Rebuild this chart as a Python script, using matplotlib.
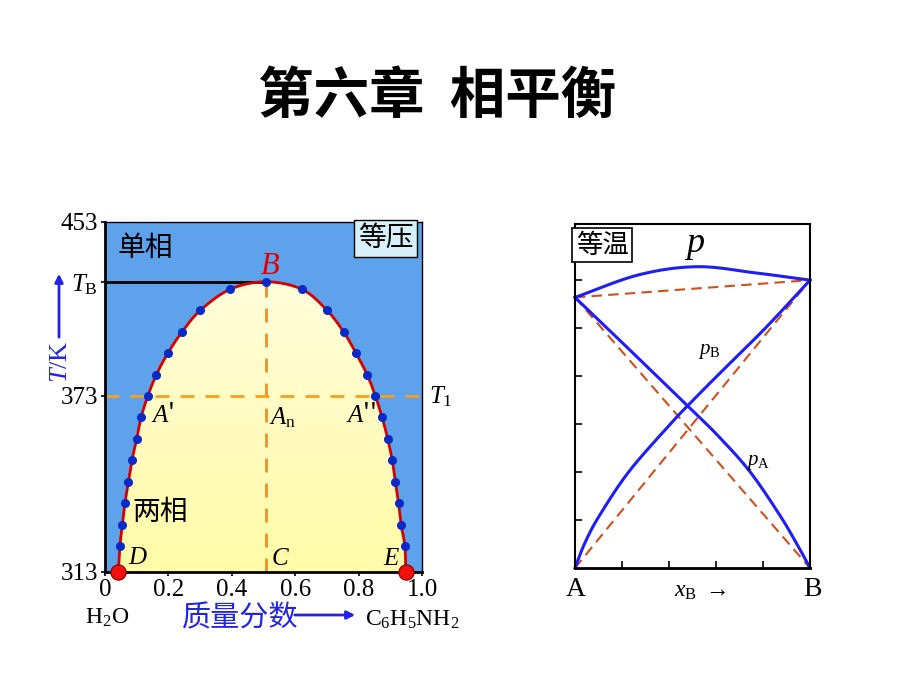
import numpy as np
import matplotlib
matplotlib.use("Agg")
import matplotlib.pyplot as plt
from matplotlib.colors import LinearSegmentedColormap
from matplotlib.patches import FancyArrowPatch

plt.rcParams['font.family'] = ['Noto Sans CJK SC', 'DejaVu Sans']
plt.rcParams['mathtext.fontset'] = 'custom'
plt.rcParams['mathtext.rm'] = 'Liberation Serif'
plt.rcParams['mathtext.it'] = 'Liberation Serif:italic'

# ----- Left: aniline / water binodal (schematic T axis) -----
binodal_x = [0.042, 0.047, 0.055, 0.063, 0.074, 0.085, 0.100, 0.114, 0.135, 0.162,
             0.198, 0.243, 0.301, 0.395, 0.507, 0.621, 0.700, 0.753, 0.792, 0.827,
             0.853, 0.874, 0.892, 0.906, 0.916, 0.926, 0.934, 0.946, 0.949]
binodal_T = [313, 323.5, 331.9, 340.6, 349.1, 357.7, 366.2, 374.9, 383.4, 391.9,
             400.5, 409.0, 417.7, 426.1, 429.1, 426.1, 417.7, 409.0, 400.5, 391.9,
             383.4, 374.9, 366.2, 357.7, 349.1, 340.6, 331.9, 323.5, 313]
T_ticks = [313, 383.4, 429.1, 453]
T_labels = ['313', '373', r'$T_\mathrm{B}$', '453']
w_ticks = [0, 0.2, 0.4, 0.6, 0.8, 1.0]
w_labels = ['0', '0.2', '0.4', '0.6', '0.8', '1.0']
B_x, T_B, T_1 = 0.507, 429.1, 383.4

# ----- Right: isothermal p-x diagram -----
xB_B = [0, 0.04, 0.10, 0.228, 0.40, 0.477, 0.60, 0.81, 1.0]
p_B = [0, 0.50, 1.06, 2.00, 2.97, 3.37, 3.98, 5.0, 6.0]
xB_A = [0, 0.16, 0.342, 0.477, 0.60, 0.741, 0.869, 0.95, 1.0]
p_A = [5.64, 4.89, 4.03, 3.39, 2.80, 2.03, 1.12, 0.45, 0]
xB_tot = [0, 0.271, 0.52, 0.769, 1.0]
p_tot = [5.64, 6.11, 6.28, 6.15, 6.0]
pA_star, pB_star = 5.64, 6.0


def smooth(x, y, n=16):
    # Catmull-Rom through the read points
    pts = np.column_stack([x, y]).astype(float)
    P = np.vstack([2 * pts[0] - pts[1], pts, 2 * pts[-1] - pts[-2]])
    out = []
    t = np.linspace(0, 1, n, endpoint=False)[:, None]
    for i in range(1, len(P) - 2):
        p0, p1, p2, p3 = P[i - 1], P[i], P[i + 1], P[i + 2]
        out.append(0.5 * (2 * p1 + (-p0 + p2) * t + (2 * p0 - 5 * p1 + 4 * p2 - p3) * t ** 2
                          + (-p0 + 3 * p1 - 3 * p2 + p3) * t ** 3))
    out.append(pts[-1][None])
    c = np.vstack(out)
    return c[:, 0], c[:, 1]


W, H = 920, 690
fig = plt.figure(figsize=(9.2, 6.9), dpi=100)
fig.patch.set_facecolor('white')


def fx(px):
    return px / W


def fy(py):
    return 1 - py / H


serif = 'Liberation Serif'
blue_txt = '#2323E6'

fig.text(fx(437), fy(97), '第六章  相平衡', ha='center', va='center',
         fontsize=40, fontweight='bold')

# ================= left panel =================
ax = fig.add_axes([fx(105), fy(572), (422 - 105) / W, (572 - 222) / H])
ax.set_facecolor('#5EA2EC')
ax.set_xlim(0, 1)
ax.set_ylim(313, 453)

cx, cy = smooth(binodal_x, binodal_T)
poly = ax.fill(cx, cy, facecolor='none', edgecolor='none')[0]
cmap = LinearSegmentedColormap.from_list('yel', ['#FFFBA6', '#FFFDE6'])
grad = np.linspace(0, 1, 256)[:, None]
im = ax.imshow(grad, extent=[0, 1, 313, 453], origin='lower', aspect='auto',
               cmap=cmap, zorder=1)
im.set_clip_path(poly)

ax.plot([0, B_x], [T_B, T_B], color='black', lw=2, zorder=3)
ax.plot([B_x, B_x], [313, T_B], color='#E8922A', lw=2, ls=(0, (5, 4)), zorder=2)
ax.plot([0, 1], [T_1, T_1], color='#F5A020', lw=2, ls=(0, (5, 4)), zorder=2)
ax.plot(cx, cy, color='#D40000', lw=2, zorder=4)
ax.plot(binodal_x[1:-1], binodal_T[1:-1], 'o', color='#0A2AC8', ms=5.5, zorder=5)
ax.plot([binodal_x[0], binodal_x[-1]], [binodal_T[0], binodal_T[-1]], 'o',
        color='#F01010', mec='#800000', mew=0.8, ms=11, zorder=6, clip_on=False)

ax.set_xticks(w_ticks)
ax.set_xticklabels(w_labels, fontsize=18, family=serif)
ax.set_yticks(T_ticks)
ax.set_yticklabels(T_labels, fontsize=18, family=serif)
ax.tick_params(axis='both', length=3, width=1.2, pad=2)
for s in ['left', 'bottom']:
    ax.spines[s].set_linewidth(2)
for s in ['top', 'right']:
    ax.spines[s].set_linewidth(1)

ax.text(0.126, 442.6, '单相', fontsize=20, ha='center', va='center')
ax.text(0.885, 446.5, '等压', fontsize=20, ha='center', va='center',
        bbox=dict(boxstyle='square,pad=0.12', fc='#D6F0FA', ec='black', lw=1))
ax.text(0.52, 435.8, '$B$', fontsize=22, color='#E00000', ha='center', va='center')
ax.text(0.183, 375.6, "$A$'", fontsize=18, ha='center', va='center')
ax.text(0.56, 375.0, r'$A_\mathrm{n}$', fontsize=18, ha='center', va='center')
ax.text(0.808, 375.6, "$A$''", fontsize=18, ha='center', va='center')
ax.text(0.174, 337.0, '两相', fontsize=20, ha='center', va='center')
ax.text(0.104, 319.0, '$D$', fontsize=18, ha='center', va='center')
ax.text(0.552, 318.6, '$C$', fontsize=18, ha='center', va='center')
ax.text(0.905, 318.6, '$E$', fontsize=18, ha='center', va='center')
ax.text(1.06, T_1, r'$T_1$', fontsize=18, ha='center', va='center')

fig.text(fx(61), fy(362), '$T$/K', rotation=90, color=blue_txt, fontsize=19,
         ha='center', va='center', family=serif)
fig.patches.append(FancyArrowPatch((fx(59), fy(340)), (fx(59), fy(271)),
                                   transform=fig.transFigure, arrowstyle='-|>',
                                   mutation_scale=12, color=blue_txt, lw=2))
fig.text(fx(107), fy(618), r'H$_2$O', fontsize=17, ha='center', va='center', family=serif)
fig.text(fx(240), fy(618), '质量分数', fontsize=21, color=blue_txt, ha='center', va='center')
fig.patches.append(FancyArrowPatch((fx(292), fy(615)), (fx(358), fy(615)),
                                   transform=fig.transFigure, arrowstyle='-|>',
                                   mutation_scale=12, color=blue_txt, lw=2))
fig.text(fx(412), fy(620), r'C$_6$H$_5$NH$_2$', fontsize=17, ha='center', va='center',
         family=serif)

# ================= right panel =================
bx = fig.add_axes([fx(575), fy(568), (810 - 575) / W, (568 - 224) / H])
bx.set_xlim(0, 1)
bx.set_ylim(0, 7.17)
red_d = '#D0501A'
bx.plot([0, 1], [pA_star, pB_star], color=red_d, lw=1.5, ls=(0, (5, 3)))
bx.plot([0, 1], [pA_star, 0], color=red_d, lw=1.5, ls=(0, (5, 3)))
bx.plot([0, 1], [0, pB_star], color=red_d, lw=1.5, ls=(0, (5, 3)))
blue = '#1E1EF5'
for xs, ys in [(xB_B, p_B), (xB_A, p_A), (xB_tot, p_tot)]:
    sx, sy = smooth(xs, ys)
    bx.plot(sx, sy, color=blue, lw=2.2, clip_on=False)

bx.set_xticks([0.2, 0.4, 0.6, 0.8])
bx.set_yticks([1, 2, 3, 4, 5, 6])
bx.tick_params(direction='in', length=5, width=1.2, labelbottom=False, labelleft=False)
for s in bx.spines.values():
    s.set_linewidth(1.5)
bx.spines['bottom'].set_linewidth(2)

bx.text(0.115, 6.73, '等温', fontsize=19, ha='center', va='center',
        bbox=dict(boxstyle='square,pad=0.12', fc='white', ec='black', lw=1.2))
bx.text(0.51, 6.75, '$p$', fontsize=26, ha='center', va='center')
bx.text(0.57, 4.55, r'$p_\mathrm{B}$', fontsize=15, ha='center', va='center')
bx.text(0.78, 2.22, r'$p_\mathrm{A}$', fontsize=15, ha='center', va='center')

fig.text(fx(576), fy(589), 'A', fontsize=20, ha='center', va='center', family=serif)
fig.text(fx(812), fy(589), 'B', fontsize=20, ha='center', va='center', family=serif)
fig.text(fx(700), fy(590), r'$x_\mathrm{B}$ $\rightarrow$', fontsize=17, ha='center',
         va='center')

fig.savefig('out.png', dpi=100)
